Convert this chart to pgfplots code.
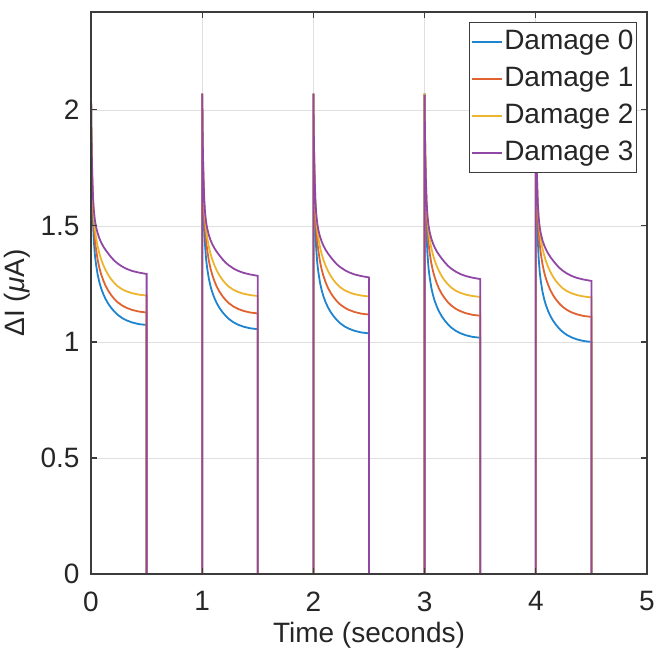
\documentclass[border=0pt]{standalone}
\usepackage{pgfplots}
\pgfplotsset{compat=1.18}
\usepackage{pgfplotstable}
\usepackage{fontspec}
\setmainfont{Liberation Sans}
\definecolor{mblue}{RGB}{30,132,208}
\definecolor{morange}{RGB}{224,98,48}
\definecolor{myellow}{RGB}{237,180,45}
\definecolor{mpurple}{RGB}{145,72,165}
\definecolor{axcol}{RGB}{60,60,60}
\definecolor{gridcol}{RGB}{223,223,223}
\pgfplotsset{
  layers/gridbelow/.define layer set={
    axis background,axis grid,main,axis ticks,axis lines,axis tick labels,axis descriptions,axis foreground
  }{
    grid style={/pgfplots/on layer=axis grid},
    tick style={/pgfplots/on layer=axis ticks},
    axis line style={/pgfplots/on layer=axis lines},
    label style={/pgfplots/on layer=axis descriptions},
    legend style={/pgfplots/on layer=axis descriptions},
    ticklabel style={/pgfplots/on layer=axis tick labels},
    axis background@ style={/pgfplots/on layer=axis background},
  },
}
\pgfplotstableread{
t b o y p
0 0 0 0 0
0 2.07 2.07 2.07 2.07
0.003 1.89 1.915 1.925 1.93
0.007 1.74 1.782 1.80 1.81
0.012 1.615 1.67 1.695 1.71
0.018 1.515 1.575 1.607 1.625
0.025 1.44 1.503 1.542 1.57
0.035 1.375 1.439 1.485 1.525
0.045 1.335 1.40 1.451 1.497
0.06 1.29 1.354 1.411 1.468
0.075 1.258 1.32 1.382 1.447
0.09 1.233 1.294 1.358 1.430
0.11 1.207 1.266 1.332 1.412
0.13 1.186 1.243 1.311 1.397
0.155 1.165 1.221 1.289 1.381
0.18 1.148 1.203 1.271 1.366
0.21 1.131 1.185 1.254 1.350
0.24 1.117 1.171 1.240 1.338
0.28 1.103 1.157 1.227 1.325
0.32 1.093 1.147 1.218 1.315
0.37 1.084 1.138 1.210 1.306
0.43 1.077 1.131 1.204 1.299
0.5 1.073 1.127 1.200 1.293
0.5 0 0 0 0
1 0 0 0 0
1 2.07 2.07 2.07 2.07
1.003 1.872 1.911 1.923 1.922
1.007 1.722 1.778 1.798 1.802
1.012 1.597 1.666 1.693 1.702
1.018 1.497 1.571 1.605 1.617
1.025 1.422 1.499 1.540 1.562
1.035 1.357 1.435 1.483 1.517
1.045 1.317 1.396 1.449 1.489
1.06 1.272 1.350 1.409 1.460
1.075 1.240 1.316 1.380 1.439
1.09 1.215 1.290 1.356 1.422
1.11 1.189 1.262 1.330 1.404
1.13 1.168 1.239 1.309 1.389
1.155 1.147 1.217 1.287 1.373
1.18 1.130 1.199 1.269 1.358
1.21 1.113 1.181 1.252 1.342
1.24 1.099 1.167 1.238 1.330
1.28 1.085 1.153 1.225 1.317
1.32 1.075 1.143 1.216 1.307
1.37 1.066 1.134 1.208 1.298
1.43 1.059 1.127 1.202 1.291
1.5 1.055 1.123 1.198 1.285
1.5 0 0 0 0
2 0 0 0 0
2 2.07 2.07 2.07 2.07
2.003 1.854 1.906 1.921 1.915
2.007 1.704 1.773 1.796 1.795
2.012 1.579 1.661 1.691 1.695
2.018 1.479 1.566 1.603 1.610
2.025 1.404 1.494 1.538 1.555
2.035 1.339 1.430 1.481 1.510
2.045 1.299 1.391 1.447 1.482
2.06 1.254 1.345 1.407 1.453
2.075 1.222 1.311 1.378 1.432
2.09 1.197 1.285 1.354 1.415
2.11 1.171 1.257 1.328 1.397
2.13 1.150 1.234 1.307 1.382
2.155 1.129 1.212 1.285 1.366
2.18 1.112 1.194 1.267 1.351
2.21 1.095 1.176 1.250 1.335
2.24 1.081 1.162 1.236 1.323
2.28 1.067 1.148 1.223 1.310
2.32 1.057 1.138 1.214 1.300
2.37 1.048 1.129 1.206 1.291
2.43 1.041 1.122 1.200 1.284
2.5 1.037 1.118 1.196 1.278
2.5 0 0 0 0
3 0 0 0 0
3 2.07 2.07 2.07 2.065
3.003 1.835 1.901 1.919 1.908
3.007 1.685 1.768 1.794 1.788
3.012 1.560 1.656 1.689 1.688
3.018 1.460 1.561 1.601 1.603
3.025 1.385 1.489 1.536 1.548
3.035 1.320 1.425 1.479 1.503
3.045 1.280 1.386 1.445 1.475
3.06 1.235 1.340 1.405 1.446
3.075 1.203 1.306 1.376 1.425
3.09 1.178 1.280 1.352 1.408
3.11 1.152 1.252 1.326 1.390
3.13 1.131 1.229 1.305 1.375
3.155 1.110 1.207 1.283 1.359
3.18 1.093 1.189 1.265 1.344
3.21 1.076 1.171 1.248 1.328
3.24 1.062 1.157 1.234 1.316
3.28 1.048 1.143 1.221 1.303
3.32 1.038 1.133 1.212 1.293
3.37 1.029 1.124 1.204 1.284
3.43 1.022 1.117 1.198 1.277
3.5 1.018 1.113 1.194 1.271
3.5 0 0 0 0
4 0 0 0 0
4 2.07 2.07 2.07 2.065
4.003 1.817 1.896 1.917 1.900
4.007 1.667 1.763 1.792 1.780
4.012 1.542 1.651 1.687 1.680
4.018 1.442 1.556 1.599 1.595
4.025 1.367 1.484 1.534 1.540
4.035 1.302 1.420 1.477 1.495
4.045 1.262 1.381 1.443 1.467
4.06 1.217 1.335 1.403 1.438
4.075 1.185 1.301 1.374 1.417
4.09 1.160 1.275 1.350 1.400
4.11 1.134 1.247 1.324 1.382
4.13 1.113 1.224 1.303 1.367
4.155 1.092 1.202 1.281 1.351
4.18 1.075 1.184 1.263 1.336
4.21 1.058 1.166 1.246 1.320
4.24 1.044 1.152 1.232 1.308
4.28 1.030 1.138 1.219 1.295
4.32 1.020 1.128 1.210 1.285
4.37 1.011 1.119 1.202 1.276
4.43 1.004 1.112 1.196 1.269
4.5 1.000 1.108 1.192 1.263
4.5 0 0 0 0
5 0 0 0 0
}\data
\begin{document}
\begin{tikzpicture}
\begin{axis}[
  set layers=gridbelow,
  scale only axis, width=556pt, height=562pt,
  xmin=0, xmax=5, ymin=0, ymax=2.422,
  xtick={0,1,2,3,4,5}, ytick={0,0.5,1,1.5,2},
  grid=major, major grid style={gridcol, line width=0.8pt},
  axis line style={axcol, line width=1.1pt},
  tick style={axcol, line width=1.1pt},
  tick align=inside, major tick length=6pt,
  /pgf/number format/assume math mode=true,
  ticklabel style={font=\fontsize{28}{32}\selectfont, text=black!85},
  label style={font=\fontsize{28}{32}\selectfont, text=black!85},
  xlabel={Time (seconds)},
  ylabel={ΔI (\textit{μ}A)},
  xticklabel style={yshift=-14pt},
  yticklabel style={xshift=-8pt},
  xlabel style={yshift=-4pt},
  ylabel style={yshift=3pt},
  legend cell align=left,
  legend style={at={(1,1)}, anchor=north east, xshift=-10pt, yshift=-10pt,
    draw=axcol, line width=1.1pt, inner sep=1pt,
    font=\fontsize{28}{32}\selectfont,
    nodes={text height=20pt, text depth=6pt, inner ysep=5.5pt, inner xsep=2pt, text=black!85}},
  legend image code/.code={\draw[#1, line width=1.5pt] (-2pt,0pt) -- (28pt,0pt);},
  every axis plot/.append style={line width=1.8pt},
]
\addplot[mblue] table[x=t, y=b] {\data};
\addplot[morange] table[x=t, y=o] {\data};
\addplot[myellow] table[x=t, y=y] {\data};
\addplot[mpurple] table[x=t, y=p] {\data};
\legend{Damage 0, Damage 1, Damage 2, Damage 3}
\coordinate (sw) at (rel axis cs:0,0);
\coordinate (ne) at (rel axis cs:1,1);
\end{axis}
\pgfresetboundingbox
\path ([xshift=-91pt,yshift=-79pt]sw) rectangle ([xshift=8pt,yshift=12pt]ne);
\end{tikzpicture}
\end{document}
